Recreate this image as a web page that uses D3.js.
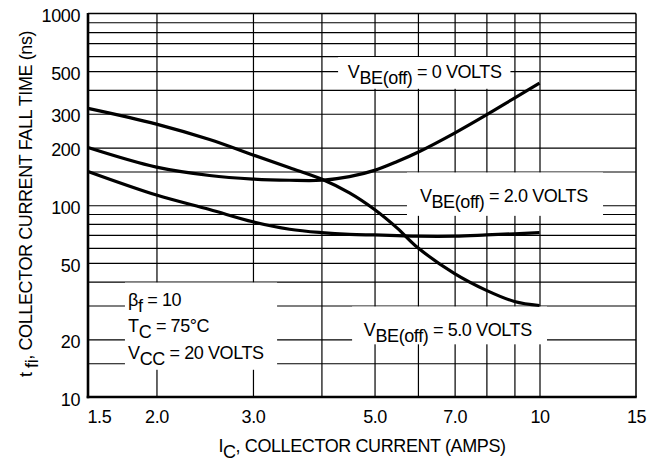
<!DOCTYPE html>
<html>
<head>
<meta charset="utf-8">
<script src="https://cdn.jsdelivr.net/npm/d3@7"></script>
<style>
    body { margin: 0; background: #fff; }
    text { font-family: "Liberation Sans", Arial, Helvetica, sans-serif; font-size: 18px; letter-spacing: -0.4px; fill: #000; }
</style>
</head>
<body>
<svg id="chart" width="660" height="463"></svg>
<script>
/*global d3*/

// collector current (amps) and fall time (ns)
var currents = [1.5, 2.0, 2.5, 3.0, 3.5, 4.0, 4.5, 5.0, 5.5, 6.0, 7.0, 8.0, 9.0, 10];
var vbe0 = [200, 158, 143, 137, 135, 135, 141, 152, 169, 189, 238, 296, 362, 433];
var vbe2 = [150, 113, 95, 82, 75, 72, 70.5, 70, 69.5, 69, 69, 70, 71, 72];
var vbe5 = [320, 265, 220, 183, 157, 137, 116, 95, 76, 60, 44, 36, 31.5, 30];

var xTicks = [1.5, 2, 3, 5, 7, 10, 15];
var xTickLabels = ["1.5", "2.0", "3.0", "5.0", "7.0", "10", "15"];
var yTicks = [10, 20, 50, 100, 200, 300, 500, 1000];
var yTickLabels = ["10", "20", "50", "100", "200", "300", "500", "1000"];
var xGrid = [2, 3, 4, 5, 6, 7, 8, 9, 10];
var yGrid = [15, 20, 30, 40, 50, 60, 70, 80, 90, 100, 150, 200, 300, 400, 500, 600, 700, 800, 900];

var margin = {top: 13.5, right: 24, bottom: 66, left: 88};
var width = 660 - margin.left - margin.right;
var height = 463 - margin.top - margin.bottom;
var subShift = 6;

var svg = d3.select("#chart").append("g")
    .attr("transform", "translate(" + margin.left + "," + margin.top + ")");

var x = d3.scaleLog().domain([1.5, 15]).range([0, width]);
var y = d3.scaleLog().domain([10, 1000]).range([height, 0]);

// text with subscript pieces
function richText(sel, parts) {
    var shifted = false;
    parts.forEach(function (p) {
        var dy = 0;
        if (p[1] && !shifted) { dy = subShift; shifted = true; }
        else if (!p[1] && shifted) { dy = -subShift; shifted = false; }
        sel.append("tspan").attr("dy", dy).text(p[0]);
    });
    return sel;
}

// grid
svg.append("g")
    .attr("class", "grid")
    .attr("transform", "translate(0," + height + ")")
    .call(d3.axisBottom(x).tickValues(xGrid).tickSize(-height).tickFormat(""))
    .call(function (g) { g.select(".domain").remove(); });

svg.append("g")
    .attr("class", "grid")
    .call(d3.axisLeft(y).tickValues(yGrid).tickSize(-width).tickFormat(""))
    .call(function (g) { g.select(".domain").remove(); });

svg.selectAll(".grid line").attr("stroke", "#000").attr("stroke-width", 1.2);

// white label boxes cut the grid
var notes = [
    {box: [4.29, 8.85, 600, 400], at: [4.47, 461], lines: [[["V"], ["BE(off)", 1], [" = 0 VOLTS"]]]},
    {box: [5.73, 13.06, 150, 87], at: [6.05, 104], lines: [[["V"], ["BE(off)", 1], [" = 2.0 VOLTS"]]]},
    {box: [4.55, 10.32, 30, 18.6], at: [4.78, 20.9], lines: [[["V"], ["BE(off)", 1], [" = 5.0 VOLTS"]]]},
    {box: [1.752, 3.32, 40, 13.7], at: [1.775, 30], lineGap: 26.5, lines: [
        [["\u03B2"], ["f", 1], [" = 10"]],
        [["T"], ["C", 1], [" = 75\u00B0C"]],
        [["V"], ["CC", 1], [" = 20 VOLTS"]]
    ]}
];

svg.selectAll(".notebox")
    .data(notes)
    .enter()
        .append("rect")
        .attr("class", "notebox")
        .attr("x", function (d) { return x(d.box[0]); })
        .attr("y", function (d) { return y(d.box[2]) + 1; })
        .attr("width", function (d) { return x(d.box[1]) - x(d.box[0]); })
        .attr("height", function (d) { return y(d.box[3]) - y(d.box[2]) - 2; })
        .attr("fill", "#fff");

// curves
var line = d3.line()
    .x(function (d) { return x(d[0]); })
    .y(function (d) { return y(d[1]); })
    .curve(d3.curveCatmullRom.alpha(0.5));

[vbe0, vbe2, vbe5].forEach(function (series) {
    svg.append("path")
        .datum(currents.map(function (c, i) { return [c, series[i]]; }))
        .attr("d", line)
        .attr("fill", "none")
        .attr("stroke", "#000")
        .attr("stroke-width", 3.2)
        .attr("stroke-linejoin", "round");
});

// frame
svg.append("line").attr("x1", 0).attr("x2", width).attr("y1", 0).attr("y2", 0)
    .attr("stroke", "#000").attr("stroke-width", 1.5);
svg.append("line").attr("x1", width).attr("x2", width).attr("y1", 0).attr("y2", height)
    .attr("stroke", "#000").attr("stroke-width", 1.5);
svg.append("line").attr("x1", 0).attr("x2", 0).attr("y1", -0.5).attr("y2", height + 1.3)
    .attr("stroke", "#000").attr("stroke-width", 2.6);
svg.append("line").attr("x1", -1.3).attr("x2", width + 0.75).attr("y1", height).attr("y2", height)
    .attr("stroke", "#000").attr("stroke-width", 2.6);

// tick labels
var xAxis = svg.append("g")
    .attr("transform", "translate(0," + height + ")")
    .call(d3.axisBottom(x).tickValues(xTicks).tickSize(0).tickPadding(13)
        .tickFormat(function (d, i) { return xTickLabels[i]; }));
xAxis.select(".domain").remove();
xAxis.selectAll("text").attr("font-size", null).attr("font-family", null);
xAxis.selectAll(".tick").filter(function (d) { return d === 1.5; })
    .select("text").attr("text-anchor", "start").attr("x", -1);

var yAxis = svg.append("g")
    .call(d3.axisLeft(y).tickValues(yTicks).tickSize(0).tickPadding(8)
        .tickFormat(function (d, i) { return yTickLabels[i]; }));
yAxis.select(".domain").remove();
yAxis.selectAll("text").attr("font-size", null).attr("font-family", null).attr("dy", "0.45em");

// annotation text
notes.forEach(function (n) {
    n.lines.forEach(function (parts, k) {
        var t = svg.append("text")
            .attr("x", x(n.at[0]))
            .attr("y", y(n.at[1]) + k * (n.lineGap || 0));
        richText(t, parts);
    });
});

// axis titles
var xTitle = svg.append("text")
    .attr("x", width / 2)
    .attr("y", height + 55)
    .attr("text-anchor", "middle");
richText(xTitle, [["I"], ["C", 1], [", COLLECTOR CURRENT (AMPS)"]]);

var yTitle = svg.append("text")
    .attr("transform", "translate(" + (32 - margin.left) + "," + (204 - margin.top) + ") rotate(-90)")
    .attr("text-anchor", "middle");
richText(yTitle, [["t "], ["fi", 1], [", COLLECTOR CURRENT FALL TIME (ns)"]]);
</script>
</body>
</html>
